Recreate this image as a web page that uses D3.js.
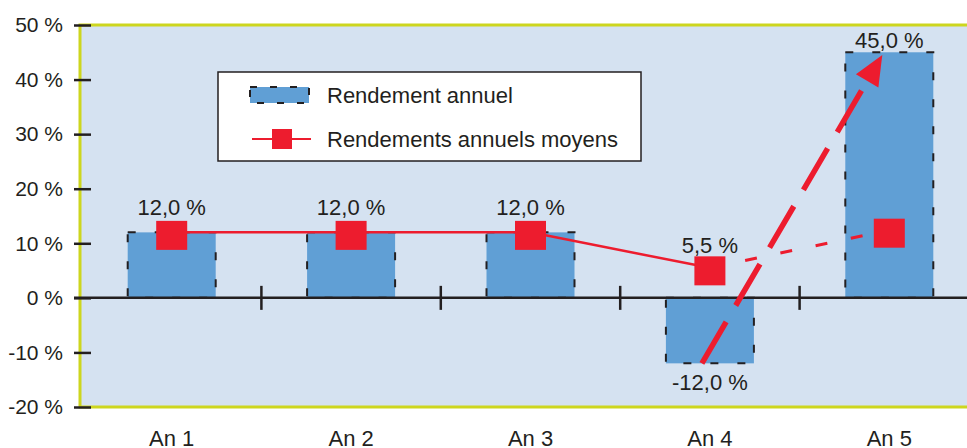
<!DOCTYPE html>
<html>
<head>
<meta charset="utf-8">
<script src="https://cdn.jsdelivr.net/npm/d3@7"></script>
<style>
  body { margin: 0; background: #fff; }
  svg { display: block; font-family: "Liberation Sans", Arial, sans-serif; }
</style>
</head>
<body>
<svg id="chart" width="967" height="448"></svg>
<script>
// data
var years = ['An 1', 'An 2', 'An 3', 'An 4', 'An 5'];
var annualReturns = [12, 12, 12, -12, 45];
var averageReturns = [12, 12, 12, 5.5, 12.4];
var yTicks = [50, 40, 30, 20, 10, 0, -10, -20];
var legendLabels = ['Rendement annuel', 'Rendements annuels moyens'];

var blue = '#609fd5', red = '#ed1c2e', ink = '#231f20';

var svg = d3.select('#chart');
var fr = d3.formatLocale({decimal: ',', thousands: ' ', grouping: [3], currency: ['', ' €'], minus: '-'});
var pct = function(v) { return fr.format('.1f')(v) + ' %'; };

var x = d3.scaleBand().domain(years).range([82, 979]);
var y = d3.scaleLinear().domain([-20, 50]).range([407, 25]);
var cx = function(d) { return x(d) + x.bandwidth() / 2; };

// plot background with yellow frame
svg.append('rect')
    .attr('x', 80).attr('y', y(50))
    .attr('width', 900).attr('height', y(-20) - y(50))
    .attr('fill', '#d5e2f1')
    .attr('stroke', '#cdd61e')
    .attr('stroke-width', 3);

// y axis
var yAxis = svg.append('g')
    .attr('transform', 'translate(91,0)')
    .call(d3.axisLeft(y).tickValues(yTicks).tickSize(17).tickPadding(11)
        .tickFormat(function(d) { return d + ' %'; }));
yAxis.select('.domain').remove();
yAxis.selectAll('line').attr('stroke', ink).attr('stroke-width', 2.5);
yAxis.selectAll('text').attr('font-size', 21).attr('fill', ink)
    .attr('font-family', '"Liberation Sans", Arial, sans-serif');

// bars
svg.selectAll('.bar')
    .data(annualReturns)
    .enter().append('rect')
    .attr('class', 'bar')
    .attr('x', function(d, i) { return cx(years[i]) - 44; })
    .attr('width', 88)
    .attr('y', function(d) { return y(Math.max(0, d)); })
    .attr('height', function(d) { return Math.abs(y(d) - y(0)); })
    .attr('fill', blue)
    .attr('stroke', ink)
    .attr('stroke-width', 2)
    .attr('stroke-dasharray', '8,19');

// zero axis and category ticks
svg.append('line')
    .attr('x1', 74).attr('x2', 967)
    .attr('y1', y(0)).attr('y2', y(0))
    .attr('stroke', ink).attr('stroke-width', 2.5);
svg.selectAll('.cat-tick')
    .data(years.slice(0, -1))
    .enter().append('line')
    .attr('class', 'cat-tick')
    .attr('x1', function(d) { return x(d) + x.step(); })
    .attr('x2', function(d) { return x(d) + x.step(); })
    .attr('y1', y(0) - 12).attr('y2', y(0) + 12)
    .attr('stroke', ink).attr('stroke-width', 2.5);

// x labels
var xAxis = svg.append('g')
    .attr('transform', 'translate(0,430)')
    .call(d3.axisBottom(x).tickSize(0).tickPadding(0));
xAxis.select('.domain').remove();
xAxis.selectAll('text').attr('font-size', 22).attr('fill', ink)
    .attr('font-family', '"Liberation Sans", Arial, sans-serif');

// average line: solid for first four, dashed to the last
var line = d3.line()
    .x(function(d, i) { return cx(years[i]); })
    .y(function(d) { return y(d); });
svg.append('path')
    .attr('d', line(averageReturns.slice(0, 4)))
    .attr('fill', 'none').attr('stroke', red).attr('stroke-width', 2.5);
svg.append('line')
    .attr('x1', cx(years[3])).attr('y1', y(averageReturns[3]))
    .attr('x2', cx(years[4])).attr('y2', y(averageReturns[4]))
    .attr('stroke', red).attr('stroke-width', 3)
    .attr('stroke-dasharray', '12,24');

// big arrow from the -12 % bottom to the 45 % top
var ax1 = cx(years[3]) - 8, ay1 = y(annualReturns[3]);
var ax2 = cx(years[4]) - 7, ay2 = 55;
var ang = Math.atan2(ay2 - ay1, ax2 - ax1);
var headLen = 30, headW = 13;
var bx = ax2 - headLen * Math.cos(ang), by = ay2 - headLen * Math.sin(ang);
svg.append('line')
    .attr('x1', ax1).attr('y1', ay1)
    .attr('x2', bx + 4 * Math.cos(ang)).attr('y2', by + 4 * Math.sin(ang))
    .attr('stroke', red).attr('stroke-width', 5.5)
    .attr('stroke-dasharray', '48,19');
svg.append('path')
    .attr('d', 'M' + ax2 + ',' + ay2 +
        'L' + (bx + headW * Math.sin(ang)) + ',' + (by - headW * Math.cos(ang)) +
        'L' + (bx - headW * Math.sin(ang)) + ',' + (by + headW * Math.cos(ang)) + 'Z')
    .attr('fill', red);

// average markers
svg.selectAll('.marker')
    .data(averageReturns)
    .enter().append('rect')
    .attr('class', 'marker')
    .attr('x', function(d, i) { return cx(years[i]) - 15.5; })
    .attr('y', function(d) { return y(d) + 3 - 14.5; })
    .attr('width', 31).attr('height', 29)
    .attr('fill', red);

// value labels
var labels = svg.append('g')
    .attr('font-size', 22).attr('fill', ink).attr('text-anchor', 'middle');
annualReturns.forEach(function(v, i) {
    var ty = y(v) - 17;
    if (v < 0) ty = y(v) + 27;
    if (v > 40) ty = y(v) - 4;
    labels.append('text')
        .attr('x', cx(years[i]))
        .attr('y', ty)
        .text(pct(v));
});
labels.append('text')
    .attr('x', cx(years[3]))
    .attr('y', y(averageReturns[3]) - 15)
    .text(pct(averageReturns[3]));

// legend
var lg = svg.append('g').attr('transform', 'translate(218,72)');
lg.append('rect')
    .attr('width', 423).attr('height', 89)
    .attr('fill', '#fff').attr('stroke', ink).attr('stroke-width', 1.5);
lg.append('rect')
    .attr('x', 32).attr('y', 15).attr('width', 59).attr('height', 16)
    .attr('fill', blue).attr('stroke', ink).attr('stroke-width', 2)
    .attr('stroke-dasharray', '7,13');
lg.append('line')
    .attr('x1', 34).attr('x2', 93).attr('y1', 67).attr('y2', 67)
    .attr('stroke', red).attr('stroke-width', 2);
lg.append('rect')
    .attr('x', 54).attr('y', 57).attr('width', 20).attr('height', 20)
    .attr('fill', red);
lg.selectAll('.lg-text')
    .data(legendLabels)
    .enter().append('text')
    .attr('class', 'lg-text')
    .attr('x', 109)
    .attr('y', function(d, i) { return 31 + i * 44; })
    .attr('font-size', 22).attr('fill', ink)
    .text(function(d) { return d; });
</script>
</body>
</html>
